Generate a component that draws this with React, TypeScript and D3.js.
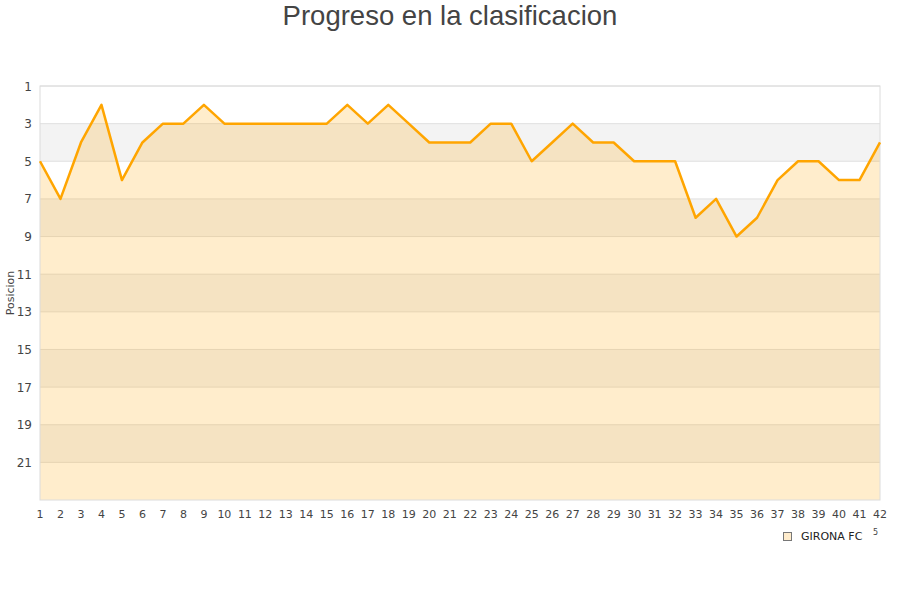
import React from "react";
import * as d3 from "d3";

const jornadas: number[] = Array.from({ length: 42 }, (_, i) => i + 1);
const posiciones: number[] = [5, 7, 4, 2, 6, 4, 3, 3, 2, 3, 3, 3, 3, 3, 3, 2, 3, 2, 3, 4, 4, 4, 3, 3, 5, 4, 3, 4, 4, 5, 5, 5, 8, 7, 9, 8, 6, 5, 5, 6, 6, 4];
const yTicks: number[] = [1, 3, 5, 7, 9, 11, 13, 15, 17, 19, 21];
const title = "Progreso en la clasificacion";
const yLabel = "Posicion";
const seriesName = "GIRONA FC";

export default function App() {
  const W = 900, H = 600;
  const left = 40, right = 880, top = 86, bottom = 500;
  const x = d3.scaleLinear().domain([1, 42]).range([left, right]);
  const y = d3.scaleLinear().domain([1, 23]).range([top, bottom]);
  const data = jornadas.map((j, i) => ({ j, p: posiciones[i] }));
  const line = d3.line<{ j: number; p: number }>().x(d => x(d.j)).y(d => y(d.p));
  const area = d3.area<{ j: number; p: number }>().x(d => x(d.j)).y0(bottom).y1(d => y(d.p));
  const bands: number[] = [];
  for (let v = 1; v < 23; v += 2) bands.push(v);
  const font = "DejaVu Sans, sans-serif";
  return (
    <svg width={W} height={H} style={{ position: "absolute", left: 0, top: 0, background: "#fff" }}>
      <text x={450} y={25} textAnchor="middle" fontFamily="Liberation Sans, Arial, sans-serif" fontSize={27.5} fill="#444">{title}</text>
      {bands.map((v, i) => (
        <rect key={v} x={left} y={y(v)} width={right - left} height={y(v + 2) - y(v)} fill={i % 2 === 1 ? "#f3f3f3" : "#ffffff"} />
      ))}
      {yTicks.map(v => (
        <line key={v} x1={left} x2={right} y1={y(v)} y2={y(v)} stroke="#e0e0e0" strokeWidth={1} />
      ))}
      <path d={area(data) || ""} fill="rgba(255,165,0,0.2)" />
      <rect x={left} y={top} width={right - left} height={bottom - top} fill="none" stroke="#dcdcdc" strokeWidth={1} />
      <path d={line(data) || ""} fill="none" stroke="#ffa500" strokeWidth={2.5} strokeLinejoin="round" />
      {yTicks.map(v => (
        <text key={v} x={32} y={y(v) + 4.5} textAnchor="end" fontFamily={font} fontSize={12} fill="#444">{v}</text>
      ))}
      {jornadas.map(j => (
        <text key={j} x={x(j)} y={518} textAnchor="middle" fontFamily={font} fontSize={11} fill="#444">{j}</text>
      ))}
      <text transform={`translate(14,${(top + bottom) / 2}) rotate(-90)`} textAnchor="middle" fontFamily={font} fontSize={11} fill="#444">{yLabel}</text>
      <rect x={783.5} y={532.5} width={8} height={8} fill="#ffeccc" stroke="#777" strokeWidth={1} />
      <text x={801} y={540} fontFamily={font} fontSize={11} fill="#222">{seriesName}</text>
      <text x={873} y={535} fontFamily={font} fontSize={8} fill="#444">5</text>
    </svg>
  );
}
